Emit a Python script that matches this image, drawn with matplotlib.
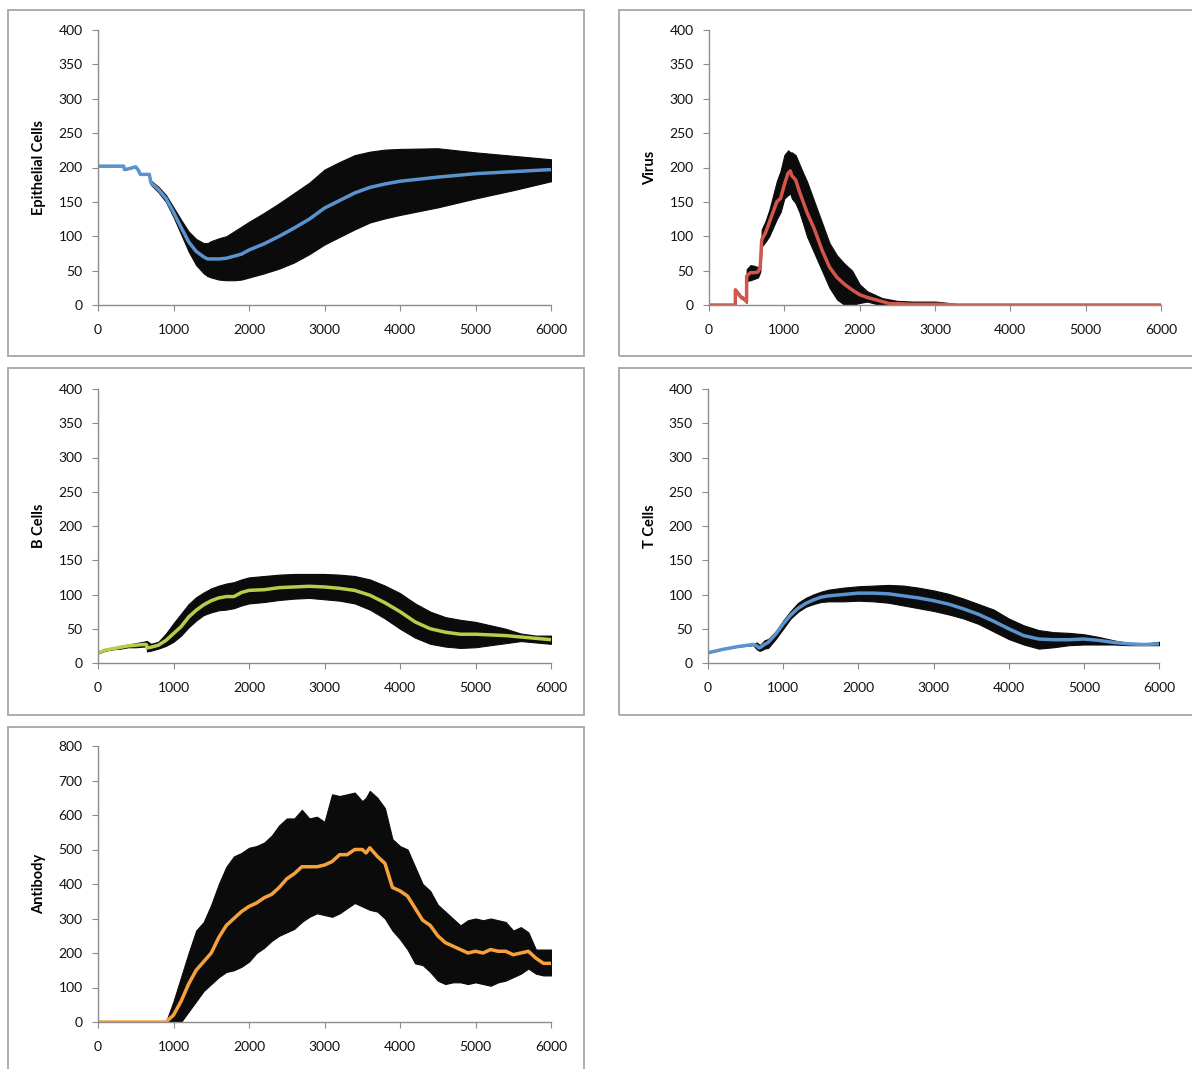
import matplotlib
matplotlib.use("Agg")
import matplotlib.pyplot as plt
from matplotlib.patches import Rectangle
import numpy as np

plt.rcParams["font.family"] = ["Lato", "DejaVu Sans"]

# ---- Epithelial cells ----
epi_x = [0, 340, 350, 400, 500, 540, 560, 680, 700, 800, 900, 1000, 1100, 1200, 1300, 1400,
         1450, 1500, 1600, 1700, 1800, 1900, 2000, 2200, 2400, 2600, 2800, 3000, 3200, 3400,
         3600, 3800, 4000, 4500, 5000, 5500, 6000]
epi_mean = [202, 202, 197, 198, 201, 195, 190, 190, 178, 168, 155, 135, 113, 92, 78, 70,
            67, 67, 67, 68, 71, 74, 80, 89, 100, 112, 125, 141, 152, 163, 171, 176, 180,
            186, 191, 194, 197]
epi_hi = [202, 202, 197, 198, 201, 195, 190, 191, 181, 172, 160, 142, 124, 107, 96, 90,
          90, 93, 97, 100, 107, 114, 121, 134, 148, 163, 178, 197, 208, 218, 223, 226, 227,
          228, 222, 217, 212]
epi_lo = [202, 202, 197, 198, 201, 195, 190, 189, 175, 164, 150, 128, 103, 78, 58, 46,
          42, 40, 37, 36, 36, 37, 40, 46, 53, 62, 74, 88, 99, 110, 120, 126, 131, 142, 155,
          167, 180]

# ---- Virus ----
vir_x = [0, 349, 350, 420, 480, 499, 500, 550, 600, 650, 680, 700, 750, 800, 900, 950, 1000,
         1050, 1080, 1100, 1150, 1200, 1250, 1300, 1400, 1500, 1600, 1700, 1800, 1900, 2000,
         2100, 2200, 2300, 2400, 2500, 2700, 3000, 3100, 3300, 6000]
vir_mean = [0, 0, 22, 12, 8, 5, 42, 47, 47, 48, 55, 95, 105, 120, 150, 155, 175, 192, 195,
            188, 182, 165, 150, 135, 110, 80, 55, 40, 30, 22, 15, 11, 8, 5, 2, 2, 1, 1, 1,
            0, 0]
vir_hi = [0, 0, 24, 14, 10, 7, 52, 58, 57, 55, 60, 110, 122, 138, 180, 195, 218, 225, 222,
          222, 218, 205, 192, 180, 150, 120, 90, 72, 60, 50, 30, 20, 15, 10, 8, 6, 5, 5, 4,
          1, 0]
vir_lo = [0, 0, 20, 10, 6, 3, 35, 36, 38, 40, 48, 85, 92, 100, 125, 135, 155, 160, 162, 155,
          148, 135, 118, 100, 75, 50, 25, 8, 0, 0, 3, 5, 2, 0, 0, 0, 0, 0, 0, 0, 0]

# ---- B cells ----
bc_x = [0, 100, 200, 300, 400, 500, 600, 640, 650, 700, 800, 900, 1000, 1100, 1200, 1300,
        1400, 1500, 1600, 1700, 1800, 1850, 1900, 2000, 2200, 2400, 2600, 2800, 3000, 3200,
        3400, 3600, 3800, 4000, 4200, 4400, 4600, 4800, 5000, 5200, 5400, 5600, 5800, 6000]
bc_mean = [15, 19, 21, 23, 25, 26, 27, 27, 22, 23, 26, 33, 43, 53, 67, 77, 85, 91, 95, 97,
           97, 100, 103, 106, 107, 110, 111, 112, 111, 109, 106, 99, 88, 75, 60, 50, 45, 42,
           42, 41, 40, 38, 36, 34]
bc_hi = [16, 20, 22, 25, 27, 29, 31, 32, 32, 28, 31, 43, 58, 72, 86, 96, 103, 109, 113, 116,
         118, 120, 122, 125, 127, 129, 130, 130, 130, 129, 127, 122, 113, 102, 87, 75, 67,
         63, 60, 55, 50, 43, 40, 40]
bc_lo = [14, 18, 20, 21, 23, 23, 24, 24, 17, 18, 21, 25, 31, 40, 52, 62, 70, 74, 77, 78, 80,
         82, 84, 87, 89, 92, 94, 95, 93, 91, 87, 78, 65, 50, 37, 28, 24, 22, 23, 26, 29, 32,
         30, 28]

# ---- T cells ----
tc_x = [0, 200, 400, 600, 650, 680, 700, 750, 800, 900, 1000, 1100, 1200, 1300, 1400, 1500,
        1600, 1800, 2000, 2200, 2400, 2600, 2800, 3000, 3200, 3400, 3600, 3800, 4000, 4200,
        4400, 4600, 4800, 5000, 5200, 5400, 5600, 5800, 6000]
tc_mean = [15, 20, 24, 27, 25, 22, 23, 27, 30, 42, 57, 70, 80, 87, 92, 96, 98, 100, 102, 102,
           101, 98, 95, 91, 86, 79, 71, 61, 50, 40, 35, 34, 34, 35, 33, 30, 28, 27, 28]
tc_hi = [15, 20, 24, 27, 30, 27, 27, 33, 35, 46, 62, 76, 88, 95, 100, 104, 107, 110, 112, 113,
         114, 113, 110, 106, 101, 94, 86, 78, 65, 55, 48, 45, 44, 42, 38, 33, 29, 28, 31]
tc_lo = [15, 20, 24, 26, 20, 18, 18, 21, 22, 35, 50, 65, 75, 82, 86, 89, 90, 90, 91, 90, 88,
         84, 80, 76, 71, 65, 57, 46, 35, 27, 21, 23, 26, 27, 27, 27, 26, 26, 26]

# ---- Antibody ----
ab_x = [0, 900, 1000, 1100, 1200, 1300, 1400, 1500, 1600, 1700, 1800, 1900, 2000, 2100, 2200,
        2300, 2400, 2500, 2600, 2700, 2800, 2900, 3000, 3100, 3200, 3300, 3400, 3500, 3550,
        3600, 3700, 3800, 3900, 4000, 4100, 4200, 4300, 4400, 4500, 4600, 4700, 4800, 4900,
        5000, 5100, 5200, 5300, 5400, 5500, 5600, 5700, 5800, 5900, 6000]
ab_mean = [0, 0, 20, 60, 110, 150, 175, 200, 245, 280, 300, 320, 335, 345, 360, 370, 390,
           415, 430, 450, 450, 450, 455, 465, 485, 485, 500, 500, 490, 505, 480, 460, 390,
           380, 365, 330, 295, 280, 250, 230, 220, 210, 200, 205, 200, 210, 205, 205, 195,
           200, 205, 185, 170, 170]
ab_hi = [0, 0, 60, 130, 200, 265, 290, 340, 400, 450, 480, 490, 505, 510, 520, 540, 570, 590,
         590, 615, 590, 595, 580, 660, 655, 660, 665, 640, 650, 670, 650, 620, 530, 510, 500,
         450, 400, 380, 340, 320, 300, 280, 295, 300, 295, 300, 295, 290, 265, 275, 260, 210,
         210, 210]
ab_lo = [0, 0, 0, 0, 30, 60, 90, 110, 130, 145, 150, 160, 175, 200, 215, 235, 250, 260, 270,
         290, 305, 315, 310, 305, 315, 330, 345, 335, 330, 325, 320, 300, 265, 240, 210, 170,
         165, 145, 120, 110, 115, 115, 110, 115, 110, 105, 115, 120, 130, 140, 155, 140, 135,
         135]

BLUE = "#5b93cf"
RED = "#d2574a"
GREEN = "#b5cf48"
ORANGE = "#f7a13c"
AXIS_GRAY = "#8c8c8c"

W, H = 1192, 1069
fig = plt.figure(figsize=(W / 100, H / 100), dpi=100)


def px_axes(left, top, right, bottom):
    return fig.add_axes([left / W, 1 - bottom / H, (right - left) / W, (bottom - top) / H])


def frame(left, top, right, bottom):
    fig.patches.append(Rectangle((left / W, 1 - bottom / H), (right - left) / W,
                                 (bottom - top) / H, transform=fig.transFigure,
                                 fill=False, edgecolor="#a6a6a6", linewidth=1.3))


def panel(ax, x, mean, lo, hi, color, ylabel, ymax, ystep):
    ax.fill_between(x, lo, hi, color="#0b0b0b", linewidth=0.8, edgecolor="#0b0b0b")
    ax.plot(x, mean, color=color, linewidth=2.5, solid_capstyle="butt")
    ax.set_xlim(0, 6000)
    ax.set_ylim(0, ymax)
    ax.set_xticks(np.arange(0, 6001, 1000))
    ax.set_yticks(np.arange(0, ymax + 1, ystep))
    for s in ("top", "right"):
        ax.spines[s].set_visible(False)
    for s in ("left", "bottom"):
        ax.spines[s].set_color(AXIS_GRAY)
        ax.spines[s].set_linewidth(1.0)
    ax.tick_params(axis="both", direction="out", length=4, color=AXIS_GRAY,
                   labelsize=10, labelcolor="#111111")
    ax.tick_params(axis="x", pad=10)
    ax.tick_params(axis="y", pad=7)
    ax.set_ylabel(ylabel, fontsize=10.5, fontweight="bold")
    ax.yaxis.set_label_coords(-0.114, 0.5)
    ax.set_facecolor("none")


frame(8, 10, 584, 356)
frame(619, 10, 1200, 356)
frame(8, 368, 584, 715)
frame(619, 368, 1200, 715)
frame(8, 727, 584, 1080)

ax1 = px_axes(98, 30, 551, 305)
panel(ax1, epi_x, epi_mean, epi_lo, epi_hi, BLUE, "Epithelial Cells", 400, 50)

ax2 = px_axes(709, 30, 1161, 305)
panel(ax2, vir_x, vir_mean, vir_lo, vir_hi, RED, "Virus", 400, 50)

ax3 = px_axes(98, 389, 551, 663)
panel(ax3, bc_x, bc_mean, bc_lo, bc_hi, GREEN, "B Cells", 400, 50)

ax4 = px_axes(708, 389, 1159, 663)
panel(ax4, tc_x, tc_mean, tc_lo, tc_hi, BLUE, "T Cells", 400, 50)

ax5 = px_axes(98, 746, 551, 1022)
panel(ax5, ab_x, ab_mean, ab_lo, ab_hi, ORANGE, "Antibody", 800, 100)

fig.savefig("out.png", dpi=100)
